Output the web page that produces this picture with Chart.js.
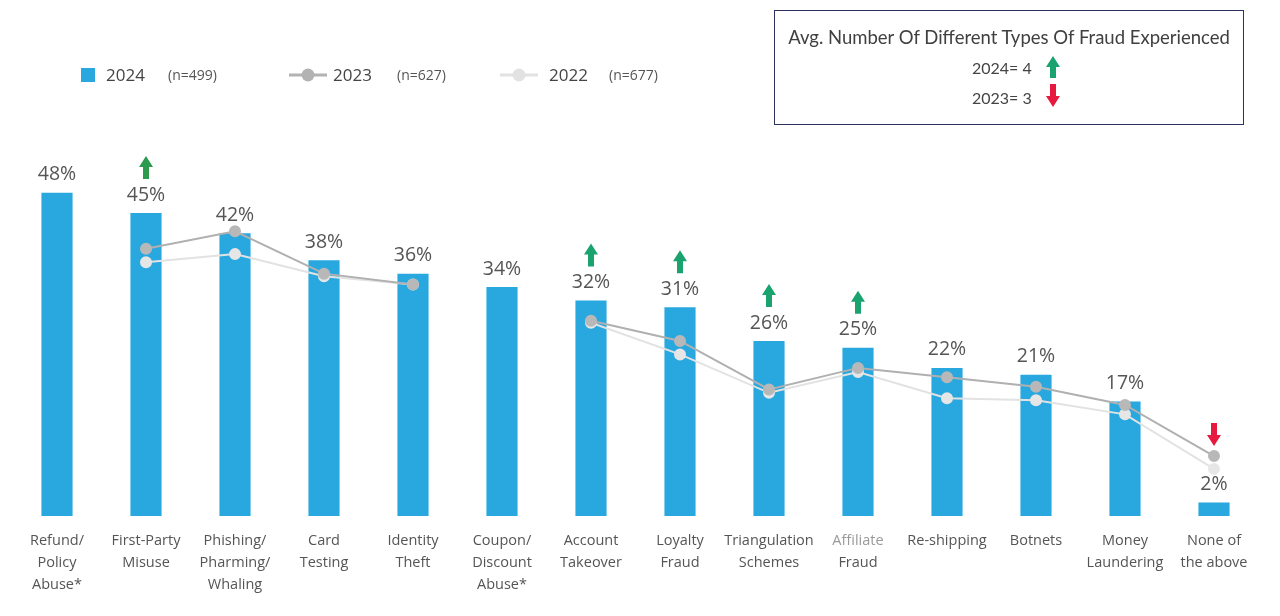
<!DOCTYPE html>
<html>
<head>
<meta charset="utf-8">
<script src="https://cdn.jsdelivr.net/npm/chart.js@4.4.1/dist/chart.umd.min.js"></script>
<style>
  html,body{margin:0;padding:0;background:#fff;}
  #wrap{position:relative;width:1280px;height:616px;overflow:hidden;font-family:"Open Sans",sans-serif;}
  #c{position:absolute;left:0;top:0;}
  .lg{position:absolute;color:#444;white-space:nowrap;}
  .big{font-size:17px;}
  .small{font-size:14px;color:#555;}
  #box{position:absolute;left:774px;top:10px;width:470px;height:115px;border:1.6px solid #2d3160;box-sizing:border-box;font-family:Lato,sans-serif;color:#404040;}
  #box .t{position:absolute;left:0;right:0;top:15px;text-align:center;font-size:18.5px;white-space:nowrap;}
  #box .r{position:absolute;left:197px;font-size:16px;color:#444;font-family:Lato,sans-serif;}
  #box svg{position:absolute;}
</style>
</head>
<body>
<div id="wrap">
  <canvas id="c" width="1280" height="616"></canvas>
  <div class="lg" style="left:81px;top:68px;width:14px;height:14px;background:#29a8e0;"></div>
  <div class="lg big" style="left:106px;top:63px;">2024</div>
  <div class="lg small" style="left:168px;top:65px;">(n=499)</div>
  <svg class="lg" style="left:288px;top:66px;" width="40" height="18"><line x1="1" y1="9" x2="39" y2="9" stroke="#b3b3b3" stroke-width="3"/><circle cx="20" cy="9" r="6.5" fill="#b3b3b3"/></svg>
  <div class="lg big" style="left:333px;top:63px;">2023</div>
  <div class="lg small" style="left:397px;top:65px;">(n=627)</div>
  <svg class="lg" style="left:499px;top:66px;" width="40" height="18"><line x1="1" y1="9" x2="39" y2="9" stroke="#e2e2e2" stroke-width="3"/><circle cx="20" cy="9" r="6.5" fill="#e2e2e2"/></svg>
  <div class="lg big" style="left:549px;top:63px;">2022</div>
  <div class="lg small" style="left:609px;top:65px;">(n=677)</div>
  <div id="box">
    <div class="t">Avg. Number Of Different Types Of Fraud Experienced</div>
    <div class="r" style="top:47px;">2024= 4</div>
    <div class="r" style="top:77px;">2023= 3</div>
    <svg style="left:270px;top:45px;" width="16" height="24"><polygon points="8,0 15,11 11,11 11,22 5,22 5,11 1,11" fill="#1aa36f"/></svg>
    <svg style="left:270px;top:73px;" width="16" height="24"><polygon points="8,23 15,12 11,12 11,0 5,0 5,12 1,12" fill="#e8193f"/></svg>
  </div>
</div>
<script>
const categories = [["Refund/","Policy","Abuse*"],["First-Party","Misuse"],["Phishing/","Pharming/","Whaling"],["Card","Testing"],["Identity","Theft"],["Coupon/","Discount","Abuse*"],["Account","Takeover"],["Loyalty","Fraud"],["Triangulation","Schemes"],["Affiliate","Fraud"],["Re-shipping"],["Botnets"],["Money","Laundering"],["None of","the above"]];
const values2024 = [48,45,42,38,36,34,32,31,26,25,22,21,17,2];
const values2023 = [null,39.7,42.3,36.0,34.4,null,29.0,26.0,18.8,22.0,20.6,19.2,16.5,8.9];
const values2022 = [null,37.7,38.9,35.6,34.4,null,28.7,24.0,18.3,21.4,17.5,17.2,15.1,7.0];
const changeArrows = [0,1,0,0,0,0,1,1,1,1,0,0,0,-1];

function drawArrow(ctx, x, yTop, dir, color){
  const w=14,h=23,hh=11,sw=6;
  ctx.save();ctx.fillStyle=color;ctx.beginPath();
  if(dir>0){
    ctx.moveTo(x,yTop);ctx.lineTo(x+w/2,yTop+hh);ctx.lineTo(x+sw/2,yTop+hh);ctx.lineTo(x+sw/2,yTop+h);
    ctx.lineTo(x-sw/2,yTop+h);ctx.lineTo(x-sw/2,yTop+hh);ctx.lineTo(x-w/2,yTop+hh);
  } else {
    ctx.moveTo(x,yTop+h);ctx.lineTo(x+w/2,yTop+h-hh);ctx.lineTo(x+sw/2,yTop+h-hh);ctx.lineTo(x+sw/2,yTop);
    ctx.lineTo(x-sw/2,yTop);ctx.lineTo(x-sw/2,yTop+h-hh);ctx.lineTo(x-w/2,yTop+h-hh);
  }
  ctx.closePath();ctx.fill();ctx.restore();
}

const overlay = {
  id:'overlay',
  afterDatasetsDraw(chart){
    const ctx=chart.ctx;
    const xs=chart.scales.x, ys=chart.scales.y;
    const barMeta=chart.getDatasetMeta(0);
    ctx.save();
    ctx.font='19.5px "Open Sans", sans-serif';
    ctx.fillStyle='#555';ctx.textAlign='center';ctx.textBaseline='middle';
    barMeta.data.forEach((b,i)=>{ ctx.fillText(values2024[i]+'%', b.x, b.y-18); });
    ctx.font='14.5px "Open Sans", sans-serif';
    chart.data.labels.forEach((lab,i)=>{
      const x=xs.getPixelForValue(i);
      lab.forEach((line,j)=>{
        ctx.fillStyle=(i===9&&j===0)?'#9a9a9a':'#555';
        ctx.fillText(line,x,541+j*22);
      });
    });
    changeArrows.forEach((d,i)=>{
      if(!d) return;
      const x=xs.getPixelForValue(i);
      if(d>0){
        const top=barMeta.data[i].y;
        drawArrow(ctx,x,top-57,1,i===1?'#2e9a50':'#1aa36f');
      } else {
        const y=ys.getPixelForValue(values2023[i]);
        drawArrow(ctx,x,y-33,-1,'#e8193f');
      }
    });
    ctx.restore();
  }
};

new Chart(document.getElementById('c'),{
  data:{
    labels:categories,
    datasets:[
      {type:'bar',label:'2024',data:values2024,backgroundColor:'#29a8e0',barPercentage:0.35,categoryPercentage:1,order:2},
      {type:'line',label:'2022',data:values2022,borderColor:'#e2e2e2',backgroundColor:'#e2e2e2',pointBackgroundColor:'#e6e6e6',pointBorderColor:'#e6e6e6',borderWidth:2,pointRadius:5,spanGaps:false,order:1},
      {type:'line',label:'2023',data:values2023,borderColor:'#b0b0b0',backgroundColor:'#b0b0b0',pointBackgroundColor:'#b8b8b8',pointBorderColor:'#b8b8b8',borderWidth:2,pointRadius:5,spanGaps:false,order:0}
    ]
  },
  options:{
    responsive:false,animation:false,
    layout:{padding:{left:12.5,right:21.5,top:139,bottom:100}},
    plugins:{legend:{display:false},tooltip:{enabled:false}},
    scales:{
      x:{display:false},
      y:{display:false,min:0,max:56}
    }
  },
  plugins:[overlay]
});
</script>
</body>
</html>
